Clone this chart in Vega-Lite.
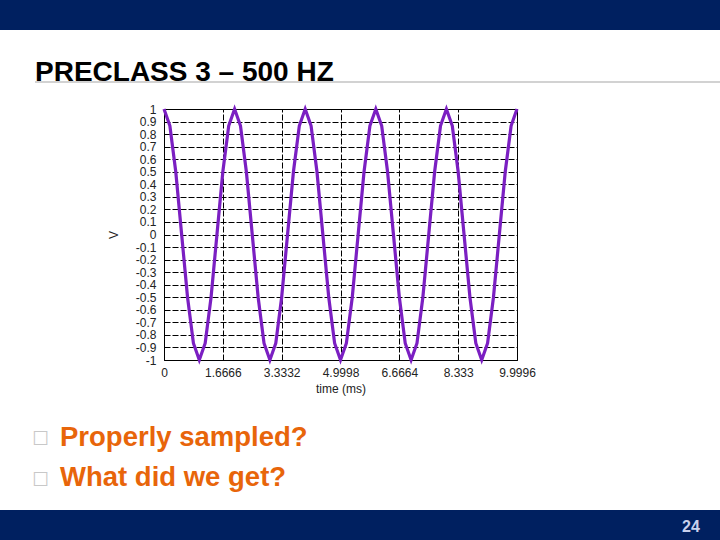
{
  "$schema": "https://vega.github.io/schema/vega-lite/v6.json",
  "padding": 0,
  "autosize": {"type": "pad"},
  "background": "white",
  "spacing": 0,
  "bounds": "flush",
  "config": {"view": {"stroke": null}, "font": "Liberation Sans"},
  "vconcat": [
    {
      "width": 720,
      "height": 30,
      "view": {"fill": "#002060", "stroke": null},
      "data": {"values": [{}]},
      "mark": {"type": "text"},
      "encoding": {},
      "title": {
        "text": ["☐", "☐"],
        "orient": "bottom",
        "anchor": "start",
        "frame": "group",
        "offset": 400,
        "dx": 32,
        "baseline": "top",
        "font": "DejaVu Sans",
        "fontSize": 19,
        "fontWeight": "normal",
        "color": "#c8c8c8",
        "lineHeight": 41
      }
    },
    {
      "width": 720,
      "height": 480,
      "title": {
        "text": "PRECLASS 3 – 500 HZ",
        "orient": "top",
        "anchor": "start",
        "frame": "group",
        "offset": -79,
        "dx": 35,
        "baseline": "alphabetic",
        "font": "Liberation Sans",
        "fontSize": 28,
        "fontWeight": "bold",
        "color": "#000000"
      },
      "layer": [
        {
          "data": {"values": [{}]},
          "mark": {"type": "rule", "color": "#d2d2d2", "strokeWidth": 2},
          "encoding": {
            "x": {
              "datum": -3.654,
              "type": "quantitative",
              "axis": {
                "orient": "top",
                "offset": -79,
                "values": [0, 1.6666, 3.3332, 4.9998, 6.6664, 8.333, 9.9996],
                "labels": false,
                "ticks": false,
                "domain": true,
                "domainColor": "#000000",
                "grid": true,
                "gridColor": "#000000",
                "gridOpacity": 1,
                "gridDash": [6, 2],
                "title": null
              }
            },
            "x2": {"datum": 15.75},
            "y": {
              "datum": 1.215,
              "type": "quantitative",
              "axis": {
                "orient": "right",
                "offset": -203,
                "labels": false,
                "ticks": false,
                "domain": true,
                "domainColor": "#000000",
                "grid": false,
                "title": null
              }
            }
          }
        },
        {
          "data": {
            "values": [
              {"t": 0, "v": 1}, {"t": 0.16666, "v": 0.866}, {"t": 0.33332, "v": 0.5}, {"t": 0.49998, "v": 0},
              {"t": 0.66664, "v": -0.5}, {"t": 0.8333, "v": -0.866}, {"t": 0.99996, "v": -1}, {"t": 1.16662, "v": -0.866},
              {"t": 1.33328, "v": -0.5}, {"t": 1.49994, "v": 0}, {"t": 1.6666, "v": 0.5}, {"t": 1.83326, "v": 0.866},
              {"t": 1.99992, "v": 1}, {"t": 2.16658, "v": 0.866}, {"t": 2.33324, "v": 0.5}, {"t": 2.4999, "v": 0},
              {"t": 2.66656, "v": -0.5}, {"t": 2.83322, "v": -0.866}, {"t": 2.99988, "v": -1}, {"t": 3.16654, "v": -0.866},
              {"t": 3.3332, "v": -0.5}, {"t": 3.49986, "v": 0}, {"t": 3.66652, "v": 0.5}, {"t": 3.83318, "v": 0.866},
              {"t": 3.99984, "v": 1}, {"t": 4.1665, "v": 0.866}, {"t": 4.33316, "v": 0.5}, {"t": 4.49982, "v": 0},
              {"t": 4.66648, "v": -0.5}, {"t": 4.83314, "v": -0.866}, {"t": 4.9998, "v": -1}, {"t": 5.16646, "v": -0.866},
              {"t": 5.33312, "v": -0.5}, {"t": 5.49978, "v": 0}, {"t": 5.66644, "v": 0.5}, {"t": 5.8331, "v": 0.866},
              {"t": 5.99976, "v": 1}, {"t": 6.16642, "v": 0.866}, {"t": 6.33308, "v": 0.5}, {"t": 6.49974, "v": 0},
              {"t": 6.6664, "v": -0.5}, {"t": 6.83306, "v": -0.866}, {"t": 6.99972, "v": -1}, {"t": 7.16638, "v": -0.866},
              {"t": 7.33304, "v": -0.5}, {"t": 7.4997, "v": 0}, {"t": 7.66636, "v": 0.5}, {"t": 7.83302, "v": 0.866},
              {"t": 7.99968, "v": 1}, {"t": 8.16634, "v": 0.866}, {"t": 8.333, "v": 0.5}, {"t": 8.49966, "v": 0},
              {"t": 8.66632, "v": -0.5}, {"t": 8.83298, "v": -0.866}, {"t": 8.99964, "v": -1}, {"t": 9.1663, "v": -0.866},
              {"t": 9.33296, "v": -0.5}, {"t": 9.49962, "v": 0}, {"t": 9.66628, "v": 0.5}, {"t": 9.83294, "v": 0.866},
              {"t": 9.9996, "v": 1}
            ]
          },
          "mark": {"type": "line", "color": "#7B1FC2", "strokeWidth": 3.2, "clip": false},
          "encoding": {
            "x": {
              "field": "t",
              "type": "quantitative",
              "scale": {"domain": [0, 9.9996], "range": [164, 517], "nice": false, "zero": false},
              "axis": {
                "orient": "bottom",
                "offset": -150,
                "values": [0, 1.6666, 3.3332, 4.9998, 6.6664, 8.333, 9.9996],
                "labelExpr": "'' + datum.value",
                "labelFlush": false,
                "labelOverlap": false,
                "labelFontSize": 12,
                "labelColor": "#222222",
                "labelPadding": 7,
                "ticks": false,
                "domain": true,
                "domainColor": "#000000",
                "grid": false,
                "title": "time (ms)",
                "titleFontSize": 12,
                "titleFontWeight": "normal",
                "titleColor": "#222222",
                "titlePadding": 5
              }
            },
            "y": {
              "field": "v",
              "type": "quantitative",
              "scale": {"domain": [-1, 1], "range": [330, 79], "nice": false, "zero": false},
              "axis": {
                "orient": "left",
                "offset": -164,
                "values": [-1, -0.9, -0.8, -0.7, -0.6, -0.5, -0.4, -0.3, -0.2, -0.1, 0, 0.1, 0.2, 0.3, 0.4, 0.5, 0.6, 0.7, 0.8, 0.9, 1],
                "labelExpr": "'' + datum.value",
                "labelFlush": false,
                "labelOverlap": false,
                "labelFontSize": 12,
                "labelColor": "#222222",
                "labelPadding": 8,
                "ticks": false,
                "domain": true,
                "domainColor": "#000000",
                "grid": true,
                "gridColor": "#000000",
                "gridOpacity": 1,
                "gridDash": [6, 2],
                "title": "V",
                "titleFontSize": 12,
                "titleFontWeight": "normal",
                "titleColor": "#222222",
                "titlePadding": 15
              }
            }
          }
        }
      ]
    },
    {
      "width": 720,
      "height": 30,
      "view": {"fill": "#002060", "stroke": null},
      "data": {"values": [{"p": "24"}]},
      "mark": {"type": "text", "dx": 331, "dy": 2, "fontSize": 16, "fontWeight": "bold", "color": "#c8d0ec", "font": "Liberation Sans", "baseline": "middle", "align": "center"},
      "encoding": {"text": {"field": "p"}},
      "title": {
        "text": ["Properly sampled?", "What did we get?"],
        "orient": "top",
        "anchor": "start",
        "frame": "group",
        "offset": -9,
        "dx": 60,
        "baseline": "bottom",
        "font": "Liberation Sans",
        "fontSize": 27.5,
        "fontWeight": "bold",
        "color": "#E8650A",
        "lineHeight": 40
      }
    }
  ]
}
